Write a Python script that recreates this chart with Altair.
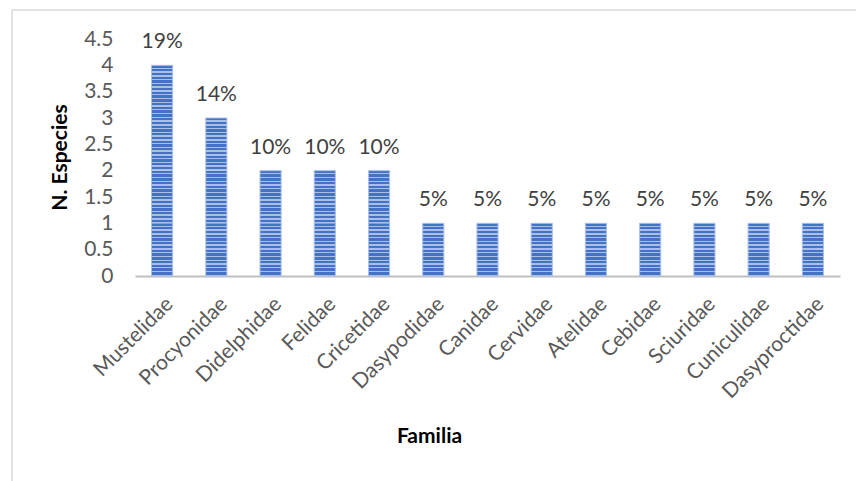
import altair as alt
import pandas as pd

familias = ["Mustelidae", "Procyonidae", "Didelphidae", "Felidae", "Cricetidae",
            "Dasypodidae", "Canidae", "Cervidae", "Atelidae", "Cebidae",
            "Sciuridae", "Cuniculidae", "Dasyproctidae"]
especies = [4, 3, 2, 2, 2, 1, 1, 1, 1, 1, 1, 1, 1]
porcentajes = ["19%", "14%", "10%", "10%", "10%", "5%", "5%", "5%", "5%",
               "5%", "5%", "5%", "5%"]
y_ticks = [0.0, 0.5, 1.0, 1.5, 2.0, 2.5, 3.0, 3.5, 4.0, 4.5]

FONT = "Lato"
FS = 21
TFS = 21
DARK = "#4472c4"
LIGHT = "#a9bfe7"

df = pd.DataFrame({"Familia": familias, "N": especies, "pct": porcentajes})
# one segment per unit so that the striped gradient keeps a constant pitch
seg = pd.DataFrame([{"Familia": f, "y0": float(k), "y1": float(k + 1)}
                    for f, n in zip(familias, especies) for k in range(n)])

n_stripes = 14
stops = []
for i in range(n_stripes):
    a = i / n_stripes
    b = (i + 0.62) / n_stripes
    c = (i + 1) / n_stripes
    stops += [alt.GradientStop(offset=a, color=DARK),
              alt.GradientStop(offset=b, color=DARK),
              alt.GradientStop(offset=b, color=LIGHT),
              alt.GradientStop(offset=c, color=LIGHT)]
grad = alt.LinearGradient(gradient="linear", stops=stops, x1=0, x2=0, y1=0, y2=1)

xscale = alt.Scale(domain=familias, paddingInner=0.61, paddingOuter=0.305)
yscale = alt.Scale(domain=[0, 4.5], nice=False, zero=True)

xaxis = alt.Axis(title="Familia", labelAngle=-45, labelFont=FONT,
                 labelFontSize=FS, labelColor="#595959", ticks=False, grid=False,
                 domainColor="#bfbfbf", domainWidth=2, labelPadding=17,
                 labelOverlap=False,
                 titleFont=FONT, titleFontSize=TFS, titleFontWeight="bold",
                 titleColor="#000000", titleX=294, titleY=160,
                 titleBaseline="middle", titleAnchor="start", titleAlign="center")

yaxis = alt.Axis(title="N. Especies", values=y_ticks, tickCount=10,
                 labelExpr="format(datum.value, '~g')",
                 grid=False, ticks=False, domain=False, labelFont=FONT,
                 labelFontSize=FS, labelColor="#595959", labelPadding=22,
                 labelOverlap=False, labelFlush=False, labelBound=False,
                 titleFont=FONT, titleFontSize=TFS, titleFontWeight="bold",
                 titleColor="#000000", titleX=-75, titleY=118,
                 titleBaseline="middle", titleAnchor="start",
                 titleAlign="center", titleAngle=-90)

bars = alt.Chart(seg).mark_bar(color=grad, strokeWidth=0).encode(
    x=alt.X("Familia:N", scale=xscale, sort=familias, axis=xaxis),
    y=alt.Y("y0:Q", scale=yscale, axis=yaxis),
    y2="y1:Q",
)

outline = alt.Chart(df).mark_bar(fillOpacity=0, stroke="#a9c0e8",
                                 strokeWidth=1).encode(
    x=alt.X("Familia:N", scale=xscale, sort=familias, axis=xaxis),
    y=alt.Y("N:Q", scale=yscale, axis=yaxis),
)

labels = alt.Chart(df).mark_text(font=FONT, fontSize=FS, color="#404040",
                                 baseline="alphabetic", dy=-17).encode(
    x=alt.X("Familia:N", scale=xscale, sort=familias, axis=xaxis),
    y=alt.Y("N:Q", scale=yscale, axis=yaxis),
    text="pct:N",
)

frame = pd.DataFrame({"k": [0]})
left_border = alt.Chart(frame).mark_rule(color="#d9d9d9", strokeWidth=1.5).encode(
    x=alt.value(-123), y=alt.value(-29), y2=alt.value(460))
top_border = alt.Chart(frame).mark_rule(color="#d9d9d9", strokeWidth=1.5).encode(
    x=alt.value(-123), x2=alt.value(740), y=alt.value(-29))

chart = alt.layer(bars, outline, labels, left_border, top_border).properties(
    width=705, height=237,
    autosize=alt.AutoSizeParams(type="none"),
    padding={"left": 135, "top": 39, "right": 16, "bottom": 205},
).configure(
    background="white",
    view=alt.ViewConfig(strokeWidth=0, stroke="transparent"),
    axis=alt.AxisConfig(grid=False, ticks=False),
)

chart.save("out.html", embed_options={"renderer": "svg", "actions": False})
